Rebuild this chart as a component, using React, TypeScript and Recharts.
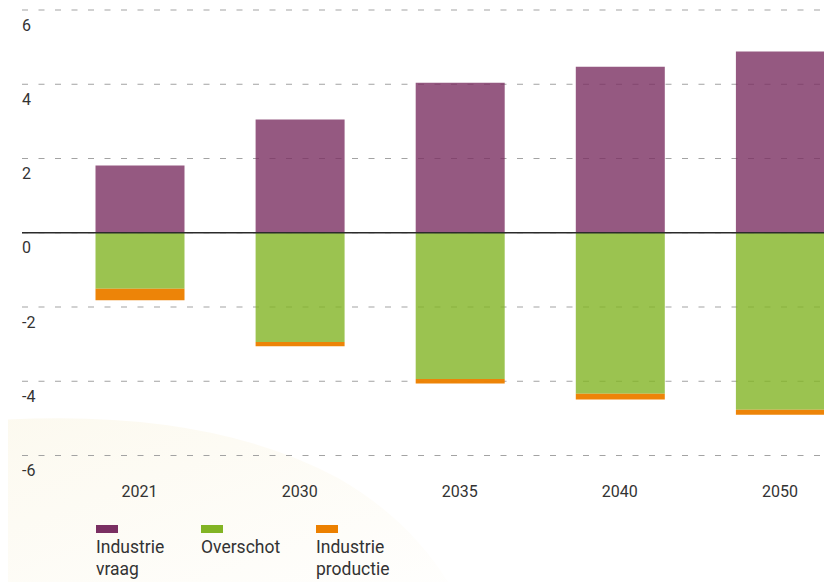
import React from "react";
import {
  BarChart,
  Bar,
  XAxis,
  YAxis,
  CartesianGrid,
  ReferenceLine,
} from "recharts";

// values
const years = ["2021", "2030", "2035", "2040", "2050"];
const industrieVraag = [1.81, 3.05, 4.04, 4.47, 4.88];
const overschot = [-1.51, -2.94, -3.94, -4.34, -4.77];
const industrieProductie = [-0.31, -0.12, -0.12, -0.15, -0.13];
const yTicks = [-6, -4, -2, 0, 2, 4, 6];

const series = [
  { key: "vraag", label: ["Industrie", "vraag"], color: "#7a2f62", opacity: 0.8 },
  { key: "overschot", label: ["Overschot"], color: "#82b424", opacity: 0.8 },
  { key: "productie", label: ["Industrie", "productie"], color: "#ec8000", opacity: 0.97 },
];

const data = years.map((year, i) => ({
  year,
  vraag: industrieVraag[i],
  overschot: overschot[i],
  productie: industrieProductie[i],
}));

const FONT = "Roboto, 'Noto Sans', sans-serif";
const TEXT = "#333333";

function YTick({ x, y, payload }: any) {
  return (
    <text x={x} y={y} dy={20.5} textAnchor="start" fill={TEXT} fontSize={16} fontFamily={FONT}>
      {payload.value}
    </text>
  );
}

function XTick({ x, y, payload }: any) {
  return (
    <text x={x} y={y} dy={41} textAnchor="middle" fill={TEXT} fontSize={16} fontFamily={FONT}>
      {payload.value}
    </text>
  );
}

const legendX = [88, 193, 308];

export default function App() {
  return (
    <div style={{ position: "relative", width: 816, height: 574, overflow: "hidden", fontFamily: FONT }}>
      {/* very faint decorative swoosh behind the chart */}
      <svg width={816} height={574} style={{ position: "absolute", left: 0, top: 0 }}>
        <defs>
          <linearGradient id="swoosh" x1="0" y1="0" x2="1" y2="1">
            <stop offset="0%" stopColor="#f7efd2" stopOpacity={0.35} />
            <stop offset="100%" stopColor="#f7efd2" stopOpacity={0.05} />
          </linearGradient>
        </defs>
        <path d="M -8 412 Q 200 400 330 470 Q 400 510 440 574 L -8 574 Z" fill="url(#swoosh)" />
      </svg>
      <div style={{ position: "absolute", left: 0, top: 0 }}>
        <BarChart
          width={852}
          height={500}
          data={data}
          stackOffset="sign"
          margin={{ top: 2, right: 0, left: 4, bottom: 0 }}
        >
          <CartesianGrid vertical={false} stroke="#a3a3a3" strokeDasharray="6 10.5" />
          <XAxis
            dataKey="year"
            padding={{ left: 37.5, right: 0 }}
            axisLine={false}
            tickLine={false}
            tickSize={0}
            tickMargin={0}
            height={52.5}
            tick={<XTick />}
          />
          <YAxis
            domain={[-6, 6]}
            ticks={yTicks}
            width={10}
            axisLine={false}
            tickLine={false}
            tickSize={0}
            tickMargin={0}
            interval={0}
            tick={<YTick />}
          />
          {series.map((s) => (
            <Bar
              key={s.key}
              dataKey={s.key}
              stackId="a"
              fill={s.color}
              fillOpacity={s.opacity}
              barSize={89}
              isAnimationActive={false}
            />
          ))}
          <ReferenceLine y={0} stroke="#2b2b2b" strokeWidth={1.5} />
        </BarChart>
      </div>
      {series.map((s, i) => (
        <div key={s.key} style={{ position: "absolute", left: legendX[i], top: 517 }}>
          <div style={{ width: 22, height: 8, background: s.color }} />
          <div style={{ marginTop: 3, fontSize: 17.5, lineHeight: "22px", color: TEXT }}>
            {s.label.map((l) => (
              <div key={l}>{l}</div>
            ))}
          </div>
        </div>
      ))}
    </div>
  );
}
